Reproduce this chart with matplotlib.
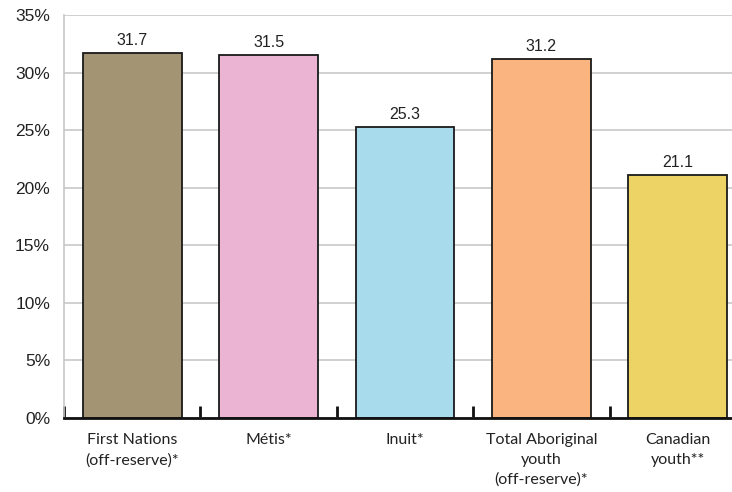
import matplotlib.pyplot as plt
from matplotlib.ticker import FuncFormatter

categories = ["First Nations\n(off-reserve)*", "Métis*", "Inuit*",
              "Total Aboriginal\nyouth\n(off-reserve)*", "Canadian\nyouth**"]
values = [31.7, 31.5, 25.3, 31.2, 21.1]
colors = ["#A39573", "#ECB4D3", "#A8DCED", "#F9B47F", "#EDD366"]
yticks = [0, 5, 10, 15, 20, 25, 30, 35]

fig = plt.figure(figsize=(7.32, 4.92), dpi=100)
ax = fig.add_axes([64 / 732, 1 - 418 / 492, 682 / 732, 403 / 492])

x = [i + 0.5 for i in range(len(values))]
ax.bar(x, values, width=0.725, color=colors, edgecolor="#1a1a1a",
       linewidth=1.3, zorder=3)

for xi, v in zip(x, values):
    ax.text(xi, v + 0.45, f"{v:.1f}", ha="center", va="bottom",
            fontsize=11.5, family="Liberation Sans", color="#222222")

ax.set_xlim(0, len(values))
ax.set_ylim(0, 35)
ax.set_yticks(yticks)
ax.yaxis.set_major_formatter(FuncFormatter(lambda v, p: f"{v:.0f}%"))
ax.grid(axis="y", color="#c8c8c8", linewidth=1.2, zorder=0)

for lbl in ax.get_yticklabels():
    lbl.set_family("Liberation Sans")
    lbl.set_fontsize(12.5)
    lbl.set_color("#222222")
ax.tick_params(axis="y", length=0, pad=10)

# category boundaries as inward ticks, labels centred under the bars
ax.set_xticks(range(len(values) + 1))
ax.set_xticklabels([])
ax.set_xticks(x, minor=True)
ax.set_xticklabels(categories, minor=True, family="Lato", fontsize=11.5,
                   color="#222222", linespacing=1.5)
ax.tick_params(axis="x", which="major", direction="in", length=9,
               width=2, color="#111111")
ax.tick_params(axis="x", which="minor", length=0, pad=11)

for side in ("top", "right"):
    ax.spines[side].set_visible(False)
ax.spines["left"].set_color("#c8c8c8")
ax.spines["left"].set_linewidth(1.2)
ax.spines["bottom"].set_color("#111111")
ax.spines["bottom"].set_linewidth(2)
ax.spines["bottom"].set_zorder(4)

fig.savefig("out.png", dpi=100)
